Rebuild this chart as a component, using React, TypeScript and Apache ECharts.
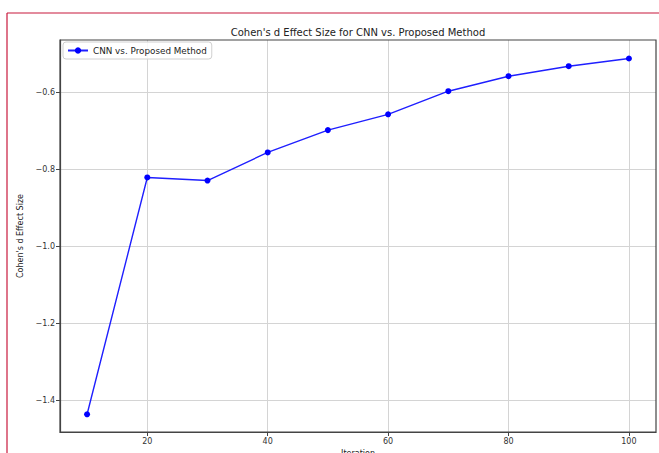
import React, { useEffect, useRef } from "react";
import * as echarts from "echarts";

const iterations = [10, 20, 30, 40, 50, 60, 70, 80, 90, 100];
const effectSizes = [-1.436, -0.821, -0.829, -0.756, -0.698, -0.657, -0.597, -0.558, -0.532, -0.512];
const xTicks = [20, 40, 60, 80, 100];
const yTicks = [-1.4, -1.2, -1.0, -0.8, -0.6];
const seriesName = "CNN vs. Proposed Method";
const titleText = "Cohen's d Effect Size for CNN vs. Proposed Method";

const FONT = "DejaVu Sans";

export default function App() {
  const ref = useRef<HTMLDivElement>(null);
  useEffect(() => {
    if (!ref.current) return;
    const chart = echarts.init(ref.current, null, { renderer: "svg" });
    const fmt = (v: number) => (Math.round(v * 10) / 10).toFixed(1).replace("-", "\u2212");
    chart.setOption({
      animation: false,
      backgroundColor: "#ffffff",
      grid: { left: 60, top: 40, right: 3, bottom: 21, containLabel: false, outerBoundsMode: "none" },
      graphic: [
        {
          type: "line",
          shape: { x1: 7, y1: 13, x2: 659, y2: 13 },
          style: { stroke: "#c8183c", lineWidth: 1.2 },
          silent: true,
        },
        {
          type: "line",
          shape: { x1: 7, y1: 13, x2: 7, y2: 453 },
          style: { stroke: "#c8183c", lineWidth: 1.2 },
          silent: true,
        },
        {
          type: "text",
          x: 358,
          y: 32,
          style: {
            text: titleText,
            fontFamily: FONT,
            fontSize: 10,
            fill: "#222222",
            align: "center",
            verticalAlign: "middle",
          },
          silent: true,
        },
        {
          type: "rect",
          shape: { x: 60, y: 40, width: 596, height: 392 },
          style: { fill: "none", stroke: "#444444", lineWidth: 1.2 },
          silent: true,
          z: 10,
        },
      ],
      legend: {
        left: 63,
        top: 42,
        data: [seriesName],
        backgroundColor: "rgba(255,255,255,0.85)",
        borderColor: "#d0d0d0",
        borderWidth: 1,
        borderRadius: 3,
        padding: [4, 5, 4, 4],
        itemWidth: 20,
        itemHeight: 8,
        itemGap: 5,
        textStyle: { fontFamily: FONT, fontSize: 8.8, color: "#222222" },
      },
      xAxis: {
        type: "value",
        min: 5.5,
        max: 104.5,
        name: "Iteration",
        nameLocation: "middle",
        nameGap: 17,
        nameTextStyle: { fontFamily: FONT, fontSize: 8, color: "#222222" },
        axisLine: { show: true, lineStyle: { color: "#444444", width: 1.2 } },
        axisTick: { show: true, length: 4, customValues: xTicks, lineStyle: { color: "#444444" } },
        axisLabel: {
          customValues: xTicks,
          fontFamily: FONT,
          fontSize: 8,
          color: "#333333",
          margin: 5,
        },
        splitLine: { show: true, lineStyle: { color: "#d4d4d4", width: 1 } },
      },
      yAxis: {
        type: "value",
        min: -1.482,
        max: -0.464,
        name: "Cohen's d Effect Size",
        nameLocation: "middle",
        nameGap: 33,
        nameRotate: 90,
        nameTextStyle: { fontFamily: FONT, fontSize: 8, color: "#222222" },
        axisLine: { show: true, lineStyle: { color: "#444444", width: 1.2 } },
        axisTick: { show: true, length: 4, customValues: yTicks, lineStyle: { color: "#444444" } },
        axisLabel: {
          customValues: yTicks,
          formatter: (v: number) => fmt(v),
          fontFamily: FONT,
          fontSize: 8,
          color: "#333333",
          margin: 5,
        },
        splitLine: { show: true, lineStyle: { color: "#d4d4d4", width: 1 } },
      },
      series: [
        {
          name: seriesName,
          type: "line",
          data: iterations.map((x, i) => [x, effectSizes[i]]),
          symbol: "circle",
          symbolSize: 6,
          showSymbol: true,
          lineStyle: { color: "#1f1fff", width: 1.4 },
          itemStyle: { color: "#0000ff" },
          z: 5,
        },
      ],
    });
    return () => chart.dispose();
  }, []);
  return (
    <div
      ref={ref}
      style={{ position: "fixed", left: 0, top: 0, width: 659, height: 453, background: "#fff" }}
    />
  );
}
